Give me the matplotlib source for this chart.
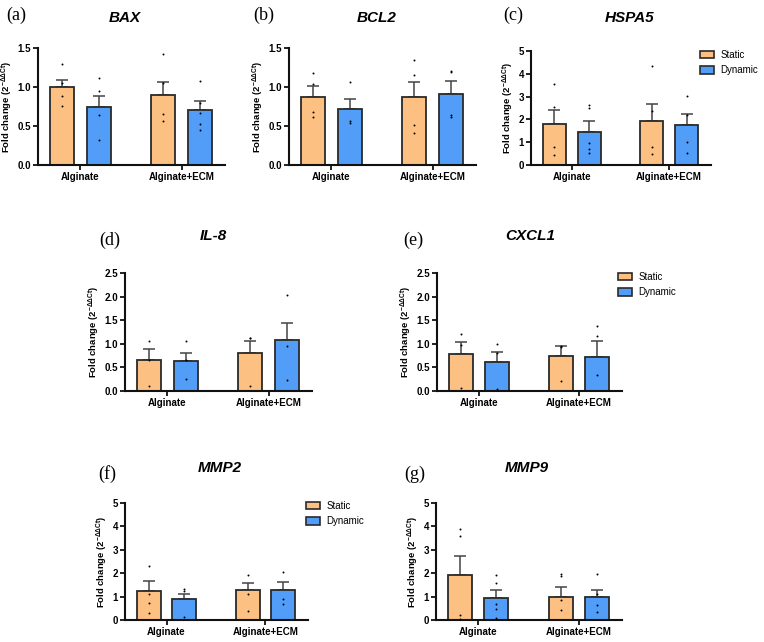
import matplotlib
matplotlib.use("Agg")
import matplotlib.pyplot as plt
from matplotlib.patches import Patch

plt.rcParams["font.family"] = ["Liberation Sans", "DejaVu Sans"]
plt.rcParams["mathtext.fontset"] = "custom"
plt.rcParams["mathtext.rm"] = "Liberation Sans:bold"
plt.rcParams["mathtext.bf"] = "Liberation Sans:bold"

groups = ["Alginate", "Alginate+ECM"]
series = ["Static", "Dynamic"]
genes = ["BAX", "BCL2", "HSPA5", "IL-8", "CXCL1", "MMP2", "MMP9"]
panel_tags = ["(a)", "(b)", "(c)", "(d)", "(e)", "(f)", "(g)"]

static_mean = [[1.00, 0.90], [0.87, 0.87], [1.78, 1.93], [0.66, 0.81],
               [0.78, 0.75], [1.26, 1.27], [1.93, 0.99]]
static_sem = [[0.09, 0.16], [0.14, 0.19], [0.62, 0.73], [0.22, 0.25],
              [0.25, 0.20], [0.41, 0.30], [0.82, 0.40]]
dynamic_mean = [[0.75, 0.71], [0.72, 0.91], [1.45, 1.75], [0.64, 1.07],
                [0.61, 0.72], [0.89, 1.27], [0.92, 0.99]]
dynamic_sem = [[0.14, 0.11], [0.13, 0.17], [0.47, 0.49], [0.17, 0.38],
               [0.22, 0.33], [0.24, 0.34], [0.35, 0.30]]

# individual replicates, per gene: [Alginate, Alginate+ECM]
static_pts = [
    [[1.30, 1.05, 0.89, 0.76], [1.42, 1.05, 0.65, 0.57]],
    [[1.18, 1.04, 0.68, 0.62], [1.34, 1.16, 0.51, 0.41]],
    [[3.54, 2.56, 0.79, 0.42], [4.34, 2.37, 0.77, 0.47]],
    [[1.06, 0.65, 0.11], [1.13, 1.13, 0.11]],
    [[1.21, 0.98, 0.06], [0.96, 0.94, 0.21]],
    [[2.32, 1.13, 0.71, 0.30], [1.93, 1.12, 0.40]],
    [[3.91, 3.60, 0.23, 0.06], [1.95, 1.86, 0.84, 0.41]],
]
dynamic_pts = [
    [[1.11, 0.95, 0.64, 0.32], [1.08, 0.79, 0.67, 0.53, 0.45]],
    [[1.06, 0.56, 0.54], [1.21, 1.19, 0.64, 0.62]],
    [[2.65, 2.49, 0.95, 0.72, 0.51], [3.03, 2.20, 1.03, 0.52]],
    [[1.05, 0.65, 0.26], [2.03, 0.95, 0.23]],
    [[1.00, 0.80, 0.05], [1.37, 1.17, 0.34]],
    [[1.33, 1.25, 0.13], [2.07, 0.89, 0.69]],
    [[1.94, 1.59, 0.68, 0.48, 0.08], [1.97, 1.10, 0.62, 0.33]],
]

y_max = [1.5, 1.5, 5, 2.5, 2.5, 5, 5]
y_step = [0.5, 0.5, 1, 0.5, 0.5, 1, 1]

W, H = 764, 642
# axes boxes in pixels: left, top, right, bottom
boxes = [(38, 48, 225, 165), (289, 48, 476, 165), (531, 51, 711, 165),
         (125, 273, 312, 391), (437, 273, 622, 391),
         (125, 503, 308, 620), (436, 503, 622, 620)]
title_xy = [(125, 18), (377, 18), (630, 18), (213, 236), (530, 236),
            (220, 468), (527, 468)]
tag_xy = [(6, 15), (253, 15), (503, 15), (99, 240), (403, 240),
          (98, 474), (404, 474)]
legend_at = {2: (700, 50), 4: (618, 272), 5: (306, 501)}

c_static = "#FCC083"
c_dynamic = "#529DF7"
edge = "#2a2a2a"

fig = plt.figure(figsize=(W / 100, H / 100), dpi=100)

for i, gene in enumerate(genes):
    l, t, r, b = boxes[i]
    ax = fig.add_axes([l / W, 1 - b / H, (r - l) / W, (b - t) / H])
    for g in range(2):
        for s, (means, sems, pts, col, off) in enumerate([
                (static_mean, static_sem, static_pts, c_static, -0.18),
                (dynamic_mean, dynamic_sem, dynamic_pts, c_dynamic, 0.18)]):
            x = g + off
            m = means[i][g]
            ax.errorbar(x, m, yerr=[[0], [sems[i][g]]], fmt="none",
                        ecolor="#444444", elinewidth=1.1, capsize=4,
                        capthick=1.1, zorder=1)
            ax.bar(x, m, width=0.24, color=col, edgecolor=edge,
                   linewidth=1.3, zorder=2)
            p = pts[i][g]
            ax.scatter([x] * len(p), p, s=2, color="black", zorder=3,
                       linewidths=0)
    ax.set_xlim(-0.42, 1.43)
    ax.set_ylim(0, y_max[i])
    n = int(round(y_max[i] / y_step[i]))
    ticks = [k * y_step[i] for k in range(n + 1)]
    ax.set_yticks(ticks)
    if y_step[i] < 1:
        ax.set_yticklabels([f"{v:.1f}" for v in ticks])
    else:
        ax.set_yticklabels([f"{int(v)}" for v in ticks])
    ax.set_xticks([0, 1])
    ax.set_xticklabels(groups)
    for sp in ["top", "right"]:
        ax.spines[sp].set_visible(False)
    for sp in ["left", "bottom"]:
        ax.spines[sp].set_linewidth(1.5)
        ax.spines[sp].set_color("#111111")
    ax.tick_params(axis="both", width=1.3, length=3.5, labelsize=7,
                   pad=1.5, color="#111111")
    for lab in ax.get_xticklabels() + ax.get_yticklabels():
        lab.set_fontweight("bold")
    ax.set_ylabel(r"Fold change (2$^{\mathbf{-\Delta\Delta Ct}}$)",
                  fontsize=6.8, fontweight="bold", labelpad=2)

    tx, ty = title_xy[i]
    fig.text(tx / W, 1 - ty / H, gene, ha="center", va="center",
             fontsize=11, fontweight="bold", fontstyle="italic")
    px, py = tag_xy[i]
    fig.text(px / W, 1 - py / H, panel_tags[i], ha="left", va="center",
             fontsize=13, family="Liberation Serif")

    if i in legend_at:
        lx, ly = legend_at[i]
        handles = [Patch(facecolor=c_static, edgecolor=edge, linewidth=1.2),
                   Patch(facecolor=c_dynamic, edgecolor=edge, linewidth=1.2)]
        fig.legend(handles, series, loc="upper left",
                   bbox_to_anchor=(lx / W, 1 - ly / H), frameon=False,
                   fontsize=7, handlelength=1.4, handleheight=0.8,
                   handletextpad=0.7, labelspacing=0.55, borderpad=0,
                   borderaxespad=0)

fig.savefig("out.png", dpi=100, facecolor="white")
